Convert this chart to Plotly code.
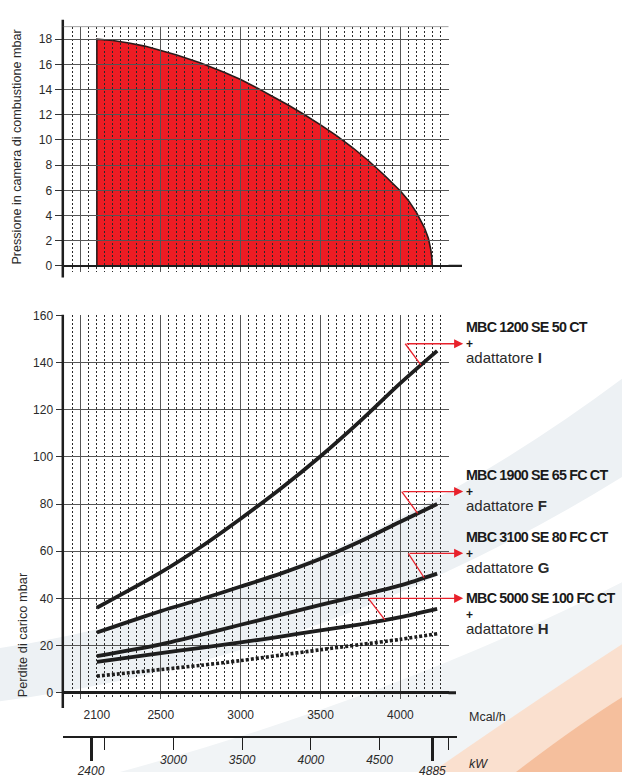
import numpy as np
import plotly.graph_objects as go

# ---------------- data ----------------
# Combustion chamber pressure envelope (upper chart): output Mcal/h -> mbar
pressure_mcal = [2100, 2200, 2300, 2400, 2500, 2600, 2750, 2900, 3000, 3100, 3200, 3300,
                 3400, 3500, 3600, 3700, 3800, 3900, 4000, 4050, 4100, 4150, 4175, 4190, 4197, 4200]
pressure_mbar = [18.0, 17.9, 17.7, 17.45, 17.1, 16.75, 16.1, 15.35, 14.8, 14.15, 13.45, 12.75,
                 12.0, 11.2, 10.35, 9.4, 8.35, 7.2, 5.95, 5.2, 4.25, 3.05, 2.2, 1.3, 0.6, 0.0]

# Pressure drop curves (lower chart): output Mcal/h -> mbar
loss_mcal = [2100, 2500, 2750, 3000, 3250, 3500, 3750, 4000, 4230]
loss_I = [36, 51, 61.8, 73.8, 86.5, 100.3, 115.3, 131.3, 145]
loss_F = [25.5, 34.6, 39.6, 45, 50.5, 56.8, 64.2, 72.5, 80]
loss_G = [15.5, 20.5, 24.5, 28.8, 33, 37.2, 41.3, 45.5, 50.5]
loss_H = [13, 16.8, 19, 21.3, 23.8, 26.4, 29, 32, 35.5]
loss_base = [7, 9.8, 11.6, 13.6, 15.9, 18.2, 20.4, 22.6, 25]

burner_names = ["MBC 1200 SE 50 CT", "MBC 1900 SE 65 FC CT",
                "MBC 3100 SE 80 FC CT", "MBC 5000 SE 100 FC CT"]
adapter_letters = ["I", "F", "G", "H"]

mcal_ticks = [2100, 2500, 3000, 3500, 4000]
kw_ticks = [2500, 3000, 3500, 4000, 4500, 5000]
kw_tick_text = ["", "3000", "3500", "4000", "4500", ""]
kw_limits = [2400, 4885]
MCAL_TO_KW = 1.163

# ---------------- geometry ----------------
W, H = 622, 778


def fx(px):
    return px / W


def fy(px):
    return 1 - px / H


X_RANGE = [1885, 4301]
X_LEFT, X_RIGHT = 62.5, 448.5
TOP_RANGE = [-0.52, 19.0]
TOP_BOTTOM, TOP_TOP = 270.0, 19.9
BOT_RANGE = [-2.8, 160.05]
BOT_BOTTOM, BOT_TOP = 704.0, 313.6
KW_RIGHT = 457.0
KW_LINE = 742.0

mcal_per_px = (X_RANGE[1] - X_RANGE[0]) / (X_RIGHT - X_LEFT)
kw_range = [X_RANGE[0] * MCAL_TO_KW,
            (X_RANGE[0] + (KW_RIGHT - X_LEFT) * mcal_per_px) * MCAL_TO_KW]

minor_vals = [v for v in range(1950, 4301, 50) if v % 500]

FONT = "Liberation Sans, Arial, sans-serif"
INK = "#1e1e1e"
GRID = "#555555"
DOTS = "#2a2a2a"
RED = "#ed1c24"
TEXT = "#2a2a2a"

x_common = dict(range=X_RANGE, tickmode="linear", tick0=0, dtick=500,
                showgrid=True, gridcolor=GRID, gridwidth=1,
                showticklabels=False, ticks="", zeroline=False, showline=False,
                minor=dict(tickmode="array", tickvals=minor_vals, showgrid=True,
                           griddash="2px,2px", gridcolor=DOTS, gridwidth=1, ticks=""))

fig = go.Figure()

# ---------------- lower chart curves ----------------
for ys in (loss_I, loss_F, loss_G, loss_H):
    fig.add_trace(go.Scatter(x=loss_mcal, y=ys, xaxis="x2", yaxis="y2", mode="lines",
                             line=dict(color=INK, width=3.8, shape="spline", smoothing=0.8),
                             hoverinfo="skip", showlegend=False))
fig.add_trace(go.Scatter(x=loss_mcal, y=loss_base, xaxis="x2", yaxis="y2", mode="lines",
                         line=dict(color=INK, width=3.6, dash="3px,2px", shape="spline", smoothing=0.8),
                         hoverinfo="skip", showlegend=False))

# leader lines from each label to its curve
ARROW = "#e8212b"
leaders = [dict(elbow=4030, level=148.0, foot=4129),
           dict(elbow=4008, level=85.3, foot=4108),
           dict(elbow=4049, level=59.1, foot=4149),
           dict(elbow=3799, level=40.0, foot=3903)]
ARROW_TIP = 4393
annotations = []
for ld, ys in zip(leaders, (loss_I, loss_F, loss_G, loss_H)):
    foot_y = float(np.interp(ld["foot"], loss_mcal, ys))
    fig.add_trace(go.Scatter(x=[ld["elbow"], ld["foot"]], y=[ld["level"], foot_y],
                             xaxis="x2", yaxis="y2", mode="lines",
                             line=dict(color=ARROW, width=1.3),
                             hoverinfo="skip", showlegend=False))
    annotations.append(dict(x=ARROW_TIP, y=ld["level"], xref="x2", yref="y2",
                            ax=ld["elbow"], ay=ld["level"], axref="x2", ayref="y2",
                            text="", showarrow=True, arrowhead=2, arrowsize=1.4,
                            arrowwidth=1.3, arrowcolor=ARROW, standoff=0, startstandoff=0))

# three-line label blocks right of the lower chart
LABEL_X = fx(464)
for i, (name, letter, ld) in enumerate(zip(burner_names, adapter_letters, leaders)):
    block = ("<span style='font-size:14.3px;letter-spacing:-0.8px'><b>%s</b></span><br>"
             "<b>+</b><br>"
             "<span style='font-size:15px;fill:#2a2a2a'>adattatore <b>%s</b></span>") % (name, letter)
    annotations.append(dict(x=LABEL_X, y=ld["level"], xref="paper", yref="y2",
                            yshift=(1 if i < 3 else -15), text=block, showarrow=False,
                            xanchor="left", yanchor="middle", align="left",
                            font=dict(family=FONT, size=12, color="#1a1a1a")))

# axis units and titles
annotations += [
    dict(x=fx(466.5), y=fy(722), xref="paper", yref="paper", text="Mcal/h", showarrow=False,
         xanchor="left", yanchor="middle", font=dict(family=FONT, size=12.5, color=TEXT)),
    dict(x=fx(466.5), y=fy(770), xref="paper", yref="paper", text="kW", showarrow=False,
         xanchor="left", yanchor="middle",
         font=dict(family=FONT, size=12.5, color=TEXT, style="italic")),
    dict(x=fx(17), y=fy(143), xref="paper", yref="paper", textangle=-90, showarrow=False,
         text="Pressione in camera di combustione mbar", xanchor="center", yanchor="middle",
         font=dict(family=FONT, size=12.6, color=TEXT)),
    dict(x=fx(22), y=fy(639), xref="paper", yref="paper", textangle=-90, showarrow=False,
         text="Perdite di carico mbar", xanchor="center", yanchor="middle",
         font=dict(family=FONT, size=12.8, color=TEXT)),
]

# helper traces so the label-only axes are laid out
for xa, ya, xv in (("x3", "y2", mcal_ticks[0]), ("x4", "y6", kw_ticks[1]), ("x5", "y6", kw_limits[0])):
    fig.add_trace(go.Scatter(x=[xv], y=[0.5], xaxis=xa, yaxis=ya, mode="markers",
                             marker=dict(opacity=0), hoverinfo="skip", showlegend=False))

# ---------------- shapes ----------------


def paper_path(cmds):
    out = []
    for c in cmds:
        op, pts = c[0], c[1:]
        out.append(op + " ".join("%.5f,%.5f" % (fx(px), fy(py)) for px, py in pts))
    return " ".join(out) + " Z"


shapes = []
# soft backdrop swooshes
for color, cmds in (
    ("#edf1f4", [("M", (0, 652)), ("Q", (330, 600), (622, 378)), ("L", (622, 478)),
                 ("Q", (330, 662), (0, 706))]),
    ("#f1f4f6", [("M", (120, 778)), ("Q", (400, 700), (622, 585)), ("L", (622, 778))]),
    ("#fae0cf", [("M", (432, 778)), ("Q", (540, 702), (622, 648)), ("L", (622, 778))]),
    ("#f5bf9d", [("M", (516, 778)), ("Q", (575, 732), (622, 702)), ("L", (622, 778))]),
):
    shapes.append(dict(type="path", path=paper_path(cmds), xref="paper", yref="paper",
                       fillcolor=color, line=dict(width=0), layer="below"))

# red operating envelope drawn under the grid
env = "M %g,0 " % pressure_mcal[0] + " ".join(
    "L %g,%g" % (xv, yv) for xv, yv in zip(pressure_mcal, pressure_mbar)) + " Z"
shapes.append(dict(type="path", path=env, xref="x", yref="y", fillcolor=RED,
                   line=dict(color="#2a1a1a", width=1.6), layer="below"))

# axis lines
shapes += [
    dict(type="line", xref="paper", yref="paper", x0=fx(62.8), x1=fx(62.8), y0=fy(13), y1=fy(275),
         line=dict(color=INK, width=2.5)),
    dict(type="line", xref="paper", yref="paper", x0=fx(62.8), x1=fx(62.8), y0=fy(313), y1=fy(713),
         line=dict(color=INK, width=2.5)),
    dict(type="line", xref="paper", yref="y", x0=fx(X_RIGHT), x1=fx(462), y0=0, y1=0,
         line=dict(color=INK, width=2.2)),
    dict(type="line", xref="paper", yref="y2", x0=fx(X_RIGHT), x1=fx(456), y0=0, y1=0,
         line=dict(color=INK, width=3)),
    dict(type="line", xref="paper", yref="y", x0=fx(X_LEFT), x1=fx(X_RIGHT), y0=TOP_RANGE[1],
         y1=TOP_RANGE[1], line=dict(color=GRID, width=1)),
]

tickfont = dict(family=FONT, size=12, color=TEXT)
italic = dict(family=FONT, size=12, color=TEXT, style="italic")

fig.update_layout(
    width=W, height=H, autosize=False,
    margin=dict(l=0, r=0, t=0, b=0),
    paper_bgcolor="white", plot_bgcolor="rgba(0,0,0,0)",
    font=dict(family=FONT, color=TEXT),
    showlegend=False,
    xaxis=dict(domain=[fx(X_LEFT), fx(X_RIGHT)], anchor="y", **x_common),
    yaxis=dict(domain=[fy(TOP_BOTTOM), fy(TOP_TOP)], range=TOP_RANGE, anchor="x",
               tickmode="linear", tick0=0, dtick=2, showgrid=True, gridcolor=GRID, gridwidth=1,
               zeroline=True, zerolinecolor=INK, zerolinewidth=2.2, showline=False,
               ticks="outside", ticklen=7, tickwidth=1, tickcolor="#333", tickfont=tickfont),
    xaxis2=dict(domain=[fx(X_LEFT), fx(X_RIGHT)], anchor="y2", **x_common),
    yaxis2=dict(domain=[fy(BOT_BOTTOM), fy(BOT_TOP)], range=BOT_RANGE, anchor="x2",
                tickmode="linear", tick0=0, dtick=20, showgrid=True, gridcolor=GRID, gridwidth=1,
                zeroline=True, zerolinecolor=INK, zerolinewidth=3, showline=False,
                ticks="outside", ticklen=6, tickwidth=1, tickcolor="#333", tickfont=tickfont),
    xaxis3=dict(overlaying="x2", anchor="y2", range=X_RANGE, tickmode="array",
                tickvals=mcal_ticks, ticktext=[str(v) for v in mcal_ticks], showgrid=False,
                zeroline=False, showline=False, ticks="outside", ticklen=4,
                tickcolor="rgba(0,0,0,0)", tickfont=tickfont),
    xaxis4=dict(domain=[fx(X_LEFT), fx(KW_RIGHT)], anchor="free", position=fy(KW_LINE),
                range=kw_range, tickmode="array", tickvals=kw_ticks, ticktext=kw_tick_text,
                showgrid=False, zeroline=False, showline=True, linecolor=INK, linewidth=2,
                ticks="outside", ticklen=12, tickwidth=1.2, tickcolor=INK, tickfont=italic),
    xaxis5=dict(overlaying="x4", anchor="free", position=fy(KW_LINE), range=kw_range,
                tickmode="array", tickvals=kw_limits, ticktext=[str(v) for v in kw_limits],
                showgrid=False, zeroline=False, showline=False, ticks="outside", ticklen=23,
                tickwidth=2.6, tickcolor=INK, tickfont=italic),
    yaxis6=dict(domain=[0, 0.04], range=[0, 1], visible=False, anchor="x4"),
    shapes=shapes,
    annotations=annotations,
)

fig.write_html("out.html")
